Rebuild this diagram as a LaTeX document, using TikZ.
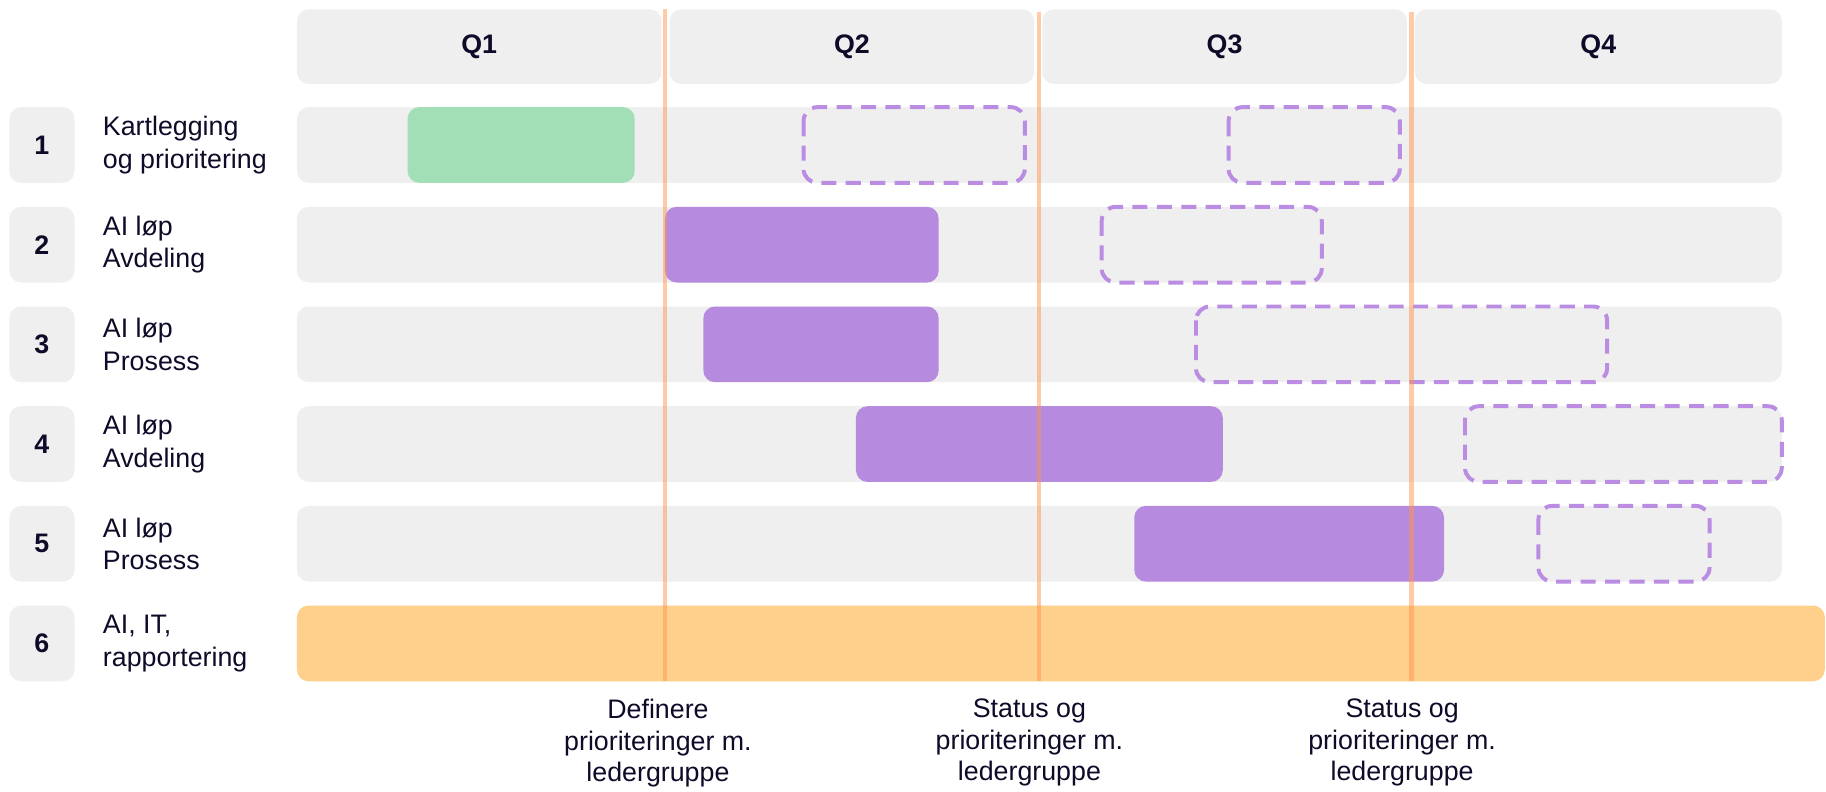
\documentclass[tikz,border=0pt]{standalone}
\usepackage{fontspec}
\setmainfont{Liberation Sans}
\begin{document}
\begin{tikzpicture}[x=0.5pt,y=-0.5pt]
\definecolor{bggray}{HTML}{EFEFEF}
\definecolor{greenbar}{HTML}{A2DFB7}
\definecolor{purplebar}{HTML}{B68ADE}
\definecolor{dashpurple}{HTML}{BA8CE2}
\definecolor{orangebar}{HTML}{FFD08C}
\definecolor{milestone}{HTML}{FF9550}
\definecolor{ink}{HTML}{0E0A28}
\tikzset{
  graybox/.style={fill=bggray, rounded corners=5pt},
  donebar/.style={fill=greenbar, rounded corners=5pt},
  activebar/.style={fill=purplebar, rounded corners=5pt},
  planbar/.style={draw=dashpurple, line width=1.7pt, dash pattern=on 6.5pt off 4pt, rounded corners=6pt},
  allbar/.style={fill=orangebar, rounded corners=5pt},
  msline/.style={draw=milestone, opacity=0.5, line width=1.8pt},
  qlabel/.style={font=\fontsize{11.5}{14}\selectfont\bfseries, text=ink},
  numlabel/.style={font=\fontsize{11.5}{14}\selectfont\bfseries, text=ink},
  rowlabel/.style={font=\fontsize{11.5}{14}\selectfont, text=ink, align=left, anchor=west, inner sep=0pt},
  mslabel/.style={font=\fontsize{11.5}{13.5}\selectfont, text=ink, align=center, anchor=north, inner sep=0pt}
}
\useasboundingbox (0,0) rectangle (1568,680);
% quarter headers
\fill[graybox] (255,8) rectangle (568,72);
\fill[graybox] (575,8) rectangle (888,72);
\fill[graybox] (895,8) rectangle (1208,72);
\fill[graybox] (1215,8) rectangle (1530,72);
\node[qlabel] (q1) at (411.5,40) {Q1};
\node[qlabel] (q2) at (731.5,40) {Q2};
\node[qlabel] (q3) at (1051.5,40) {Q3};
\node[qlabel] (q4) at (1372.5,40) {Q4};
% rows
\foreach \i/\t in {1/92,2/177.6,3/263.2,4/348.8,5/434.4,6/520}{
  \fill[graybox] (8,\t) rectangle (64,\t+65);
  \fill[graybox] (255,\t) rectangle (1530,\t+65);
  \node[numlabel] (n\i) at (36,\t+32.5) {\i};
}
\node[rowlabel] (l1) at (88,124.5) {Kartlegging\\og prioritering};
\node[rowlabel] (l2) at (88,210.1) {AI løp\\Avdeling};
\node[rowlabel] (l3) at (88,295.7) {AI løp\\Prosess};
\node[rowlabel] (l4) at (88,381.3) {AI løp\\Avdeling};
\node[rowlabel] (l5) at (88,466.9) {AI løp\\Prosess};
\node[rowlabel] (l6) at (88,552.5) {AI, IT,\\rapportering};
% bars
\fill[donebar] (350,92) rectangle (545,157);
\draw[planbar] (690,92) rectangle (880,157);
\draw[planbar] (1055,92) rectangle (1202,157);
\fill[activebar] (571,177.6) rectangle (806,242.6);
\draw[planbar] (946,177.6) rectangle (1135,242.6);
\fill[activebar] (604,263.2) rectangle (806,328.2);
\draw[planbar] (1027,263.2) rectangle (1380,328.2);
\fill[activebar] (735,348.8) rectangle (1050,413.8);
\draw[planbar] (1258,348.8) rectangle (1530,413.8);
\fill[activebar] (974,434.4) rectangle (1240,499.4);
\draw[planbar] (1321,434.4) rectangle (1468,499.4);
\fill[allbar] (255,520) rectangle (1567,585);
% milestones
\coordinate (m1t) at (571,8);  \coordinate (m1b) at (571,585);
\coordinate (m2t) at (892,10); \coordinate (m2b) at (892,585);
\coordinate (m3t) at (1212,10); \coordinate (m3b) at (1212,585);
\draw[msline] (m1t) -- (m1b);
\draw[msline] (m2t) -- (m2b);
\draw[msline] (m3t) -- (m3b);
\node[mslabel] (ms1) at (565,600) {Definere\\prioriteringer m.\\ledergruppe};
\node[mslabel] (ms2) at (884,600) {Status og\\prioriteringer m.\\ledergruppe};
\node[mslabel] (ms3) at (1204,600) {Status og\\prioriteringer m.\\ledergruppe};
\end{tikzpicture}
\end{document}
